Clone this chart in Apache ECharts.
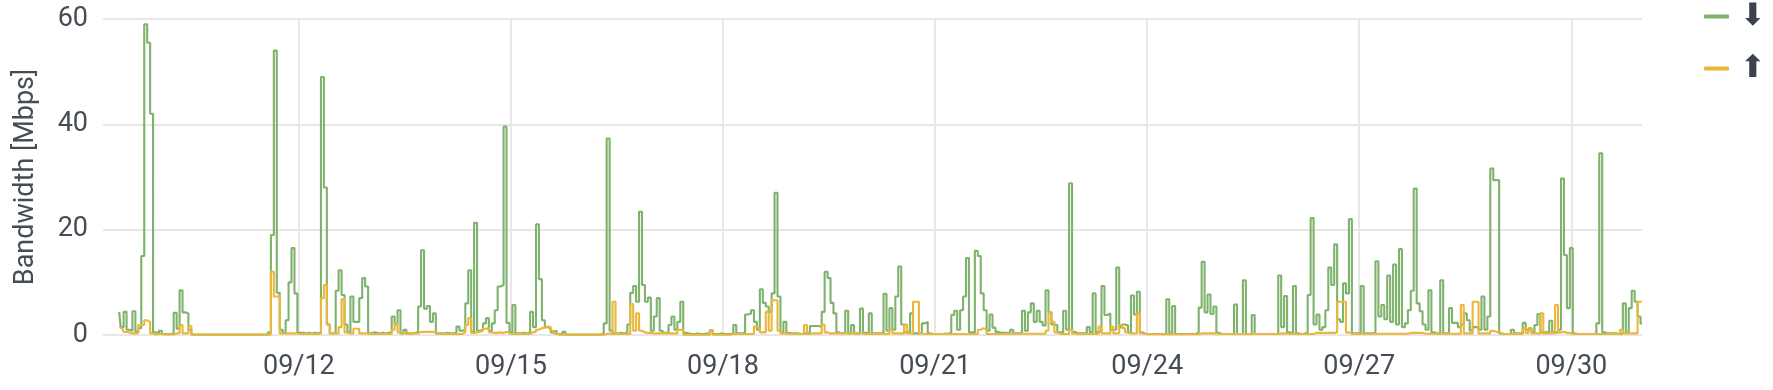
<!DOCTYPE html>
<html><head><meta charset="utf-8">
<script src="https://cdn.jsdelivr.net/npm/echarts@6/dist/echarts.min.js"></script>
<style>html,body{margin:0;padding:0;background:#fff}#c{width:1773px;height:390px}</style>
</head><body><div id="c"></div><script>
// hourly samples, first one at 09/09 11:00
const firstSample = [2023, 8, 9, 11];
const axisStart = [2023, 8, 9, 5, 30];
const axisEnd = [2023, 9, 1, 0, 0];
const tickLabels = ['09/12', '09/15', '09/18', '09/21', '09/24', '09/27', '09/30'];
const yTicks = [0, 20, 40, 60];
const seriesNames = ['\u2B07', '\u2B06'];

const downMbps = [
  4.4,1.5,4.4,1.0,0.8,4.5,0.6,1.3,15,59,55.5,42,0.5,
  0.3,0.8,0.2,0.2,0.2,0.3,4.2,1.2,8.5,4.3,4.1,1.0,0.1,0.1,0.1,0.1,0.1,0.1,0.1,0.1,0.1,0.1,0.1,0.1,
  0.1,0.1,0.1,0.1,0.1,0.1,0.1,0.1,0.1,0.1,0.1,0.1,0.1,0.1,0.5,19,54,8,1,0.4,2.8,10,16.5,7.9,
  0.4,0.4,0.3,0.4,0.3,0.4,0.3,0.5,49,28,2,0.3,0.4,8.4,12.3,7.6,2,0.5,7.3,2.5,2.5,7,10.8,9.2,
  0.3,0.5,0.4,0.3,0.4,0.3,0.4,0.5,3.5,2,4.7,0.3,1,0.3,0.3,0.4,0.6,5.4,16.1,5,5.5,2.5,4.1,0.3,
  0.3,0.3,0.4,0.3,0.3,0.5,1.6,0.8,1,6,12.3,0.6,21.3,0.8,1,2.2,3.2,0.8,2.2,4.7,9.2,9.5,39.6,2.3,
  0.5,5.7,0.3,0.3,0.4,0.3,0.5,4.4,1.5,21,10.6,2.8,1.5,1.2,0.5,0.8,0.2,0.1,0.6,0.1,0.1,0.1,0.1,0.1,
  0.1,0.1,0.1,0.1,0.1,0.1,0.1,0.3,2.2,37.3,0.8,0.3,0.3,0.4,0.3,0.5,2,8,9.3,6.3,23.4,9.5,6.3,7.1,
  0.8,3.5,7,0.8,0.4,0.5,1.9,3.5,1,2.5,6.3,0.4,0.3,0.2,0.2,0.3,0.2,0.2,0.3,0.2,0.9,0.2,0.2,0.3,
  0.2,0.2,0.2,0.3,1.9,0.3,0.3,0.5,3.9,4.1,4.7,2.5,1,8.7,6.1,5.4,4.4,7.9,27,7.3,0.5,2.5,0.4,0.3,
  0.3,0.3,0.2,0.3,0.3,0.5,1.7,1.7,1.7,1.5,4.4,12,10.8,6.1,4.1,0.5,0.3,0.4,4.6,0.3,1.9,0.3,0.3,5,
  0.4,0.3,4.1,0.3,0.3,0.3,0.4,7.8,0.8,5.1,1,7.3,13,2,0.5,0.5,4.1,0.3,0.3,0.4,2.2,2.5,0.3,0.2,
  0.2,0.2,0.2,0.3,0.2,0.5,3.8,4.6,1,4.7,7.3,14.6,0.5,0.5,16,15,7.9,4.7,0.8,3.9,1.4,0.6,0.4,0.4,
  0.4,0.4,1,0.3,0.3,0.5,4.6,0.8,4.3,6,2.5,4.6,2.5,1.8,8.5,4.3,2,1.9,0.5,0.5,4.6,1,28.8,0.6,
  0.3,0.3,0.3,0.4,1.5,0.5,7.9,0.5,0.8,9.3,3.8,4.1,1,1,12.8,1.5,2,1.8,0.5,7.5,3.9,8.2,0.5,0.2,
  0.2,0.2,0.2,0.2,0.2,0.2,0.2,6.8,0.3,5.5,0.2,0.2,0.2,0.2,0.2,0.2,0.2,0.5,5.2,13.9,4.3,7.7,4,5.4,
  0.4,0.2,0.2,0.2,0.2,0.2,5.8,0.2,0.2,10.4,0.2,0.2,3.8,0.2,0.2,0.2,0.2,0.2,0.2,0.2,0.2,11.3,1.5,7.4,
  0.5,0.3,9.3,0.3,0.2,0.3,0.5,7.6,22.2,2,3.9,1,1.5,4.7,12.8,9.5,17.2,3,2.5,9.8,7.9,22,0.3,0.3,
  0.3,9.3,0.3,0.3,0.3,0.5,14,3.5,5.7,3,11.3,2.5,13.4,2,16.3,1.5,2.2,4.7,8.4,27.8,6,4.5,2,1,
  8.5,0.5,0.3,0.3,10.4,0.3,0.5,5.1,2.3,2.3,1.5,2,4.1,2.8,0.8,1.5,1.5,1,7.3,1,3.5,31.6,29.4,29.4,
  0.3,0.2,0.2,0.2,1,0.3,0.3,0.4,2.3,1,1.3,0.5,1.9,4,0.5,0.5,0.5,2.7,0.5,0.5,1,29.7,15.2,5.1,
  16.5,0.3,0.2,0.2,0.2,0.2,0.2,0.2,0.3,2.2,34.5,0.5,0.3,0.3,0.3,0.3,0.2,0.3,6,0.5,5.1,8.4,6.3,3.5,
  2.2
];

const upMbps = [
  1.5,1.2,0.6,0.5,0.3,0.3,0.4,1.9,1.9,2.8,2.5,0.3,0.1,
  0.2,0.2,0.1,0.1,0.1,0.1,0.3,0.4,1.9,0.3,0.4,1.7,0.05,0.05,0.05,0.05,0.05,0.05,0.05,0.05,0.05,0.05,0.05,0.05,
  0.05,0.05,0.05,0.05,0.05,0.05,0.05,0.05,0.05,0.05,0.05,0.05,0.05,0.05,0.05,12,7.3,7.3,0.3,0.3,0.3,0.3,0.3,0.3,
  0.2,0.2,0.2,0.2,0.2,0.2,0.2,0.3,7,9.5,2,0.3,0.3,0.3,1.5,6.8,0.5,0.3,0.3,1.2,1.2,0.3,0.3,0.3,
  0.2,0.2,0.2,0.2,0.2,0.2,0.2,0.2,1,2.2,0.5,0.3,0.3,0.3,0.3,0.3,0.3,0.6,0.6,0.6,0.6,0.6,0.6,0.3,
  0.2,0.2,0.2,0.2,0.2,0.2,0.2,0.2,0.5,1.9,3.2,0.4,0.5,0.6,0.8,1.2,1.3,0.5,0.4,0.4,0.5,0.4,0.6,0.3,
  0.2,0.2,0.2,0.2,0.2,0.2,0.2,0.5,0.6,1,1.3,1.4,1.6,1.5,0.8,0.3,0.05,0.05,0.05,0.05,0.05,0.05,0.05,0.05,
  0.05,0.05,0.05,0.05,0.05,0.05,0.05,0.05,0.2,0.3,0.2,6.3,0.2,0.2,0.2,0.2,0.2,5.9,0.8,4.1,0.8,0.5,0.4,0.4,
  0.3,0.3,0.3,0.3,0.3,0.3,0.3,0.3,0.3,1,1,0.05,0.05,0.05,0.05,0.05,0.05,0.05,0.05,0.05,0.8,0.05,0.05,0.05,
  0.05,0.05,0.05,0.2,0.2,0.2,0.2,0.2,0.2,0.2,0.2,1.6,1.3,0.5,0.5,4.4,0.8,6.6,6.6,0.8,0.3,0.3,0.2,0.2,
  0.2,0.2,0.2,0.2,1.9,0.2,0.3,0.3,0.3,0.3,2,0.5,0.3,0.3,0.3,0.3,0.3,0.3,0.3,0.3,0.3,0.3,0.3,0.3,
  0.2,0.2,0.2,0.2,0.2,0.2,0.2,0.2,0.2,1,0.3,0.3,0.3,0.3,2,0.3,0.3,6.3,6.3,0.3,0.2,0.2,0.2,0.2,
  0.2,0.2,0.2,0.2,0.2,0.2,0.2,0.2,0.2,0.2,0.2,0.2,0.2,0.2,0.2,1,1.3,1,0.2,0.2,0.2,0.2,0.2,0.2,
  0.25,0.25,0.25,0.25,0.25,0.25,0.25,0.25,0.25,0.25,0.25,0.25,0.25,0.25,0.8,4.3,2.5,0.5,0.2,0.2,0.2,0.2,1,0.3,
  0.2,0.2,0.2,0.2,0.2,0.2,0.2,0.2,1.6,0.3,0.3,0.3,1.6,0.3,0.3,1.9,1.3,0.5,0.3,0.3,0.3,4.1,0.3,0.2,
  0.15,0.15,0.15,0.15,0.15,0.15,0.15,0.15,0.15,0.15,0.15,0.15,0.15,0.15,0.15,0.15,0.15,0.15,0.3,0.3,0.3,0.3,0.3,0.3,
  0.2,0.2,0.2,0.2,0.2,0.2,0.2,0.2,0.2,0.2,0.2,0.2,0.2,0.2,0.2,0.2,0.2,0.2,0.2,0.2,0.2,0.3,0.3,0.3,
  0.2,0.2,0.2,0.2,0.2,0.2,0.2,0.2,0.2,0.4,0.4,0.4,0.4,0.4,0.4,0.4,0.5,6.3,6.3,6.3,0.5,0.3,0.2,0.2,
  0.25,0.25,0.25,0.25,0.25,0.25,0.25,0.25,0.25,0.25,0.25,0.25,0.25,0.25,0.25,0.25,0.25,0.4,0.4,0.4,0.4,0.4,0.25,0.25,
  0.25,0.25,0.25,0.25,0.25,0.25,0.25,0.25,0.25,0.25,0.25,5.7,0.3,0.3,0.3,6.3,6.3,0.3,0.3,0.3,0.3,0.8,0.6,0.5,
  0.2,0.2,0.2,0.2,0.2,0.2,0.2,0.2,1.3,0.4,1.3,0.3,0.3,0.3,4.1,0.3,0.3,0.4,0.3,5.7,0.5,0.6,0.4,0.4,
  0.2,0.2,0.2,0.2,0.2,0.2,0.2,0.2,0.2,0.2,0.2,0.2,0.2,0.2,0.2,0.2,0.2,1,0.3,0.3,0.3,0.3,0.3,6.3,
  6.3
];

const HOUR = 3600 * 1000;
const t0 = new Date(...firstSample).getTime();
const toPairs = arr => arr.map((v, i) => [t0 + i * HOUR, v]);
const year = firstSample[0];
const tickValues = tickLabels.map(s => {
  const [m, d] = s.split('/').map(Number);
  return new Date(year, m - 1, d).getTime();
});
const pad = n => (n < 10 ? '0' : '') + n;

const textColor = '#464c54';
const gridColor = '#e7e7e7';
const chart = echarts.init(document.getElementById('c'), null, { renderer: 'canvas' });
chart.setOption({
  animation: false,
  textStyle: { fontFamily: 'Roboto' },
  grid: { left: 103, right: 131, top: 19, bottom: 55, containLabel: false },
  legend: {
    orient: 'vertical', left: 1699, top: -4,
    itemWidth: 25, itemHeight: 4, itemGap: 21, icon: 'roundRect',
    textStyle: { fontSize: 31, lineHeight: 24, color: '#3d434c', fontFamily: 'DejaVu Sans', padding: [0, 0, 0, 6] },
    data: seriesNames
  },
  xAxis: {
    type: 'value',
    min: new Date(...axisStart).getTime(),
    max: new Date(...axisEnd).getTime(),
    axisLine: { show: false },
    axisTick: { show: false, customValues: tickValues },
    splitLine: { show: true, lineStyle: { color: gridColor, width: 2 } },
    axisLabel: {
      customValues: tickValues,
      formatter: v => { const d = new Date(v); return pad(d.getMonth() + 1) + '/' + pad(d.getDate()); },
      color: textColor, fontSize: 27, margin: 19
    }
  },
  yAxis: {
    type: 'value', min: yTicks[0], max: yTicks[yTicks.length - 1], interval: yTicks[1] - yTicks[0],
    name: 'Bandwidth [Mbps]', nameLocation: 'middle', nameGap: 63,
    nameTextStyle: { color: textColor, fontSize: 27 },
    axisLine: { show: false }, axisTick: { show: false },
    axisLabel: { color: textColor, fontSize: 27, margin: 15 },
    splitLine: { show: true, lineStyle: { color: gridColor, width: 2 } }
  },
  series: [
    { name: seriesNames[0], type: 'line', data: toPairs(downMbps), showSymbol: false, step: 'middle',
      lineStyle: { width: 2.1, color: '#7EB26D' }, itemStyle: { color: '#7EB26D' }, z: 2 },
    { name: seriesNames[1], type: 'line', data: toPairs(upMbps), showSymbol: false, step: 'middle',
      lineStyle: { width: 2.1, color: '#EAB839' }, itemStyle: { color: '#EAB839' }, z: 3 }
  ]
});
</script></body></html>
